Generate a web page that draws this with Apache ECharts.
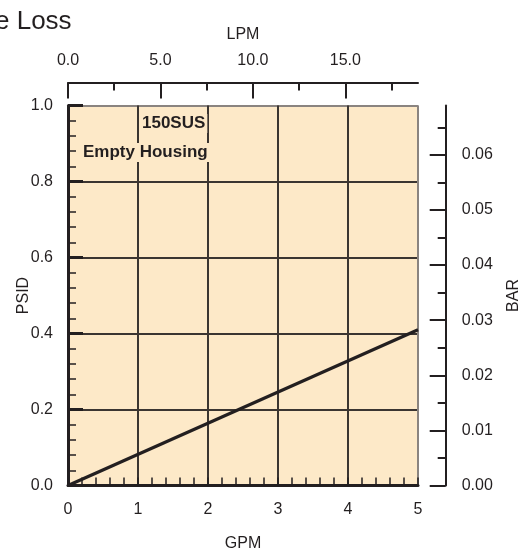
<!DOCTYPE html>
<html><head><meta charset="utf-8">
<script src="https://cdn.jsdelivr.net/npm/echarts@6/dist/echarts.min.js"></script>
<style>html,body{margin:0;padding:0;background:#fff}#c{width:521px;height:552px}</style>
</head><body><div id="c"></div>
<script>
// ---- data ----
const gpm = [0, 5];
const psid = [0, 0.41];
// ---- axis ticks ----
const lpmMajor = [0, 5, 10, 15];
const lpmMinor = [2.5, 7.5, 12.5, 17.5];
const barMajor = [0, 0.01, 0.02, 0.03, 0.04, 0.05, 0.06];
const barMinor = [0.005, 0.015, 0.025, 0.035, 0.045, 0.055, 0.065];
const LPM_PER_GPM = 3.78541;
const BAR_PER_PSI = 0.0689476;
const GPM_MAX = 5, PSI_MAX = 1;

const DARK = '#231f20', GRID = '#3b3531', EDGE = '#8a8480', FILL = '#fde9c8';
const FF = 'Liberation Sans, Arial, sans-serif';
const lab = {fontSize: 16, color: DARK, fontFamily: FF};
const GRIDBOX = {left: 68, top: 105.5, width: 350, height: 380, outerBoundsMode: 'none', containLabel: false};

const chart = echarts.init(document.getElementById('c'), null, {renderer: 'canvas'});
chart.setOption({
  animation: false,
  title: {text: 'e Loss', left: -5, top: 9, padding: 0,
    textStyle: {fontSize: 26, fontWeight: 'normal', color: DARK, fontFamily: FF}},
  grid: [
    Object.assign({show: true, backgroundColor: FILL, borderColor: EDGE, borderWidth: 1}, GRIDBOX),
    Object.assign({show: false}, GRIDBOX)
  ],
  xAxis: [
    {type: 'value', gridIndex: 0, position: 'bottom', min: 0, max: GPM_MAX, interval: 1,
      axisLine: {show: true, onZero: false, lineStyle: {color: DARK, width: 3}},
      axisTick: {show: true, inside: true, length: 8, lineStyle: {color: DARK, width: 1.5}},
      minorTick: {show: true, splitNumber: 5, length: 8, lineStyle: {color: DARK, width: 1.5}},
      splitLine: {show: true, lineStyle: {color: [GRID, GRID, GRID, GRID, GRID, EDGE], width: 2}},
      axisLabel: Object.assign({margin: 16, formatter: v => String(v)}, lab),
      name: 'GPM', nameLocation: 'middle', nameGap: 50, nameMoveOverlap: false, nameTextStyle: lab},
    {type: 'value', gridIndex: 0, position: 'top', offset: 23, min: 0, max: GPM_MAX * LPM_PER_GPM,
      axisLine: {show: true, onZero: false, lineStyle: {color: DARK, width: 2}},
      axisTick: {show: true, inside: true, length: 16, customValues: lpmMajor, lineStyle: {color: DARK, width: 2}},
      axisLabel: Object.assign({margin: 14, customValues: lpmMajor, formatter: v => v.toFixed(1)}, lab),
      splitLine: {show: false},
      name: 'LPM', nameLocation: 'middle', nameGap: 40, nameMoveOverlap: false, nameTextStyle: lab},
    {type: 'value', gridIndex: 1, position: 'top', offset: 23, min: 0, max: GPM_MAX * LPM_PER_GPM,
      axisLine: {show: false, onZero: false},
      axisTick: {show: true, inside: true, length: 8, customValues: lpmMinor, lineStyle: {color: DARK, width: 2}},
      axisLabel: {show: false}, splitLine: {show: false}}
  ],
  yAxis: [
    {type: 'value', gridIndex: 0, position: 'left', min: 0, max: PSI_MAX, interval: 0.2,
      axisLine: {show: true, onZero: false, lineStyle: {color: DARK, width: 3}},
      axisTick: {show: true, inside: true, length: 15, lineStyle: {color: DARK, width: 3}},
      minorTick: {show: true, splitNumber: 5, length: 8, lineStyle: {color: DARK, width: 1.5}},
      splitLine: {show: true, lineStyle: {color: [GRID, GRID, GRID, GRID, GRID, EDGE], width: 2}},
      axisLabel: Object.assign({margin: 15, formatter: v => v.toFixed(1)}, lab),
      name: 'PSID', nameLocation: 'middle', nameGap: 36, nameMoveOverlap: false, nameTextStyle: lab},
    {type: 'value', gridIndex: 0, position: 'right', offset: 27.7, min: 0, max: PSI_MAX * BAR_PER_PSI,
      axisLine: {show: true, onZero: false, lineStyle: {color: DARK, width: 2}},
      axisTick: {show: true, inside: true, length: 16, customValues: barMajor, lineStyle: {color: DARK, width: 2}},
      axisLabel: Object.assign({margin: 16, customValues: barMajor, formatter: v => v.toFixed(2)}, lab),
      splitLine: {show: false},
      name: 'BAR', nameLocation: 'middle', nameGap: 60, nameMoveOverlap: false, nameTextStyle: lab},
    {type: 'value', gridIndex: 1, position: 'right', offset: 27.7, min: 0, max: PSI_MAX * BAR_PER_PSI,
      axisLine: {show: false, onZero: false},
      axisTick: {show: true, inside: true, length: 8, customValues: barMinor, lineStyle: {color: DARK, width: 2}},
      axisLabel: {show: false}, splitLine: {show: false}}
  ],
  graphic: [
    {type: 'text', left: 140, top: 114, z: 100,
      style: {text: '150SUS', font: 'bold 17px ' + FF, fill: DARK, backgroundColor: FILL, padding: [1, 2]}},
    {type: 'text', left: 81, top: 143, z: 100,
      style: {text: 'Empty Housing', font: 'bold 17px ' + FF, fill: DARK, backgroundColor: FILL, padding: [1, 2]}}
  ],
  series: [{
    type: 'line', xAxisIndex: 0, yAxisIndex: 0, symbol: 'none', z: 5,
    lineStyle: {color: DARK, width: 3.2},
    data: gpm.map((g, i) => [g, psid[i]])
  }]
});
</script></body></html>
